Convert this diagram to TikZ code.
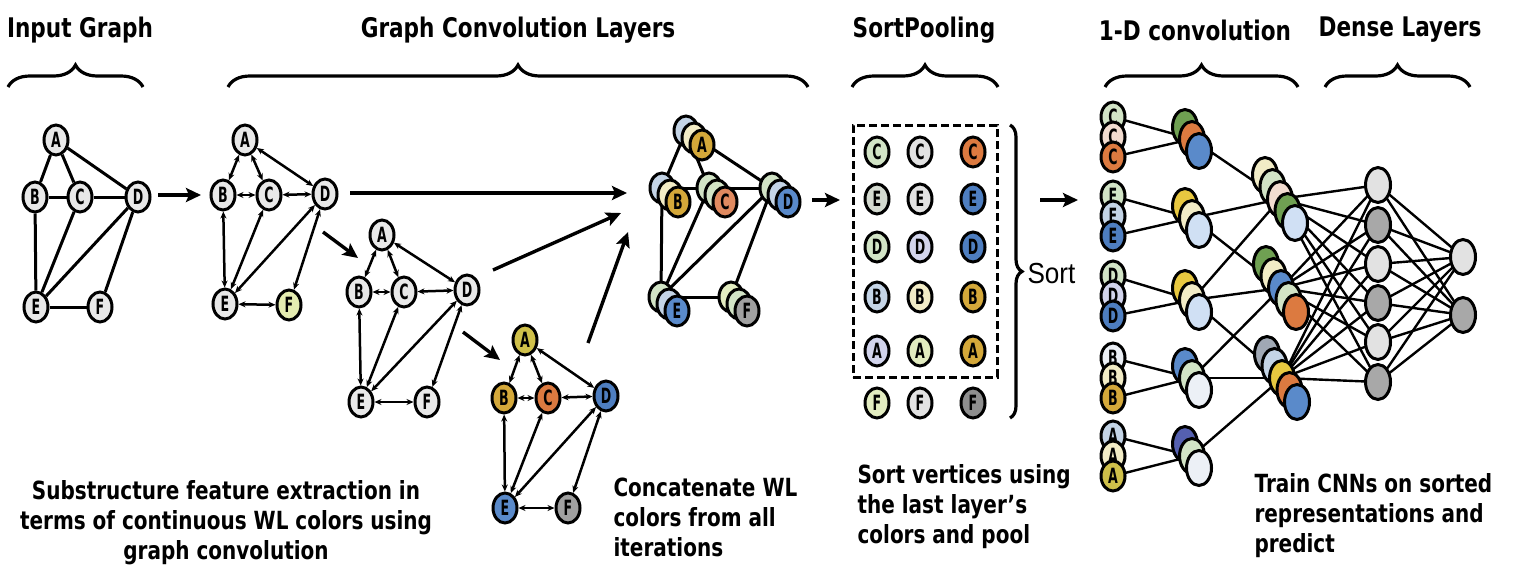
\documentclass[tikz,border=0pt]{standalone}
\usepackage{fontspec}
\setmainfont{DejaVu Sans}[FakeStretch=0.8]
\newfontfamily\lblfont{DejaVu Sans}[FakeStretch=0.6]
\newfontfamily\sortfont{Liberation Sans}[FakeStretch=0.9]
\usetikzlibrary{shapes.geometric,arrows.meta,decorations.pathreplacing}
\pgfdeclarelayer{bg}
\pgfsetlayers{bg,main}

% palette
\definecolor{vgray}{HTML}{E8E8E8}
\definecolor{fyel}{HTML}{E4ECB0}
\definecolor{olive}{HTML}{CFC04A}
\definecolor{gold}{HTML}{D4A83A}
\definecolor{orng}{HTML}{DC7A40}
\definecolor{blu}{HTML}{4E7EC0}
\definecolor{blub}{HTML}{5A8ACA}
\definecolor{midgray}{HTML}{A0A0A0}
\definecolor{ltblue}{HTML}{C4D4E6}
\definecolor{cream}{HTML}{F2ECC6}
\definecolor{ltgreen}{HTML}{D2E4C6}
\definecolor{ygreen}{HTML}{E2ECC0}
\definecolor{salmon}{HTML}{E08A60}
\definecolor{pink}{HTML}{F2DCD0}
\definecolor{green}{HTML}{6FA052}
\definecolor{yel}{HTML}{E8C840}
\definecolor{paleblue}{HTML}{D0E0F4}
\definecolor{white2}{HTML}{ECF0F6}
\definecolor{purp}{HTML}{5560B0}
\definecolor{slate}{HTML}{A0A8B4}
\definecolor{lavender}{HTML}{D2D4EC}
\definecolor{grayg}{HTML}{D4DAD0}
\definecolor{darkgray}{HTML}{8E8E8E}
\definecolor{lgray}{HTML}{E2E2E2}
\definecolor{mgray}{HTML}{A8A8A8}

% three stacked discs of one vertex, letter on the front disc
\newcommand\cstack[7]{%
  \node[vtx,fill=#4] (#1-1) at ({#2-16},{#3-14}) {};
  \node[vtx,fill=#5] (#1-2) at ({#2-8},{#3-7}) {};
  \node[vtx,fill=#6] (#1-3) at (#2,#3) {#7};}
% vertical group of three sorted rows
\newcommand\vstack[7]{%
  \node[vtx,fill=#4] (#1-1) at (#2,{#3-20}) {#7};
  \node[vtx,fill=#5] (#1-2) at (#2,#3) {#7};
  \node[vtx,fill=#6] (#1-3) at (#2,{#3+20}) {#7};}
% three feature maps
\newcommand\dstack[6]{%
  \node[fmap,fill=#4] (#1-1) at ({#2-7},{#3-12}) {};
  \node[fmap,fill=#5] (#1-2) at (#2,#3) {};
  \node[fmap,fill=#6] (#1-3) at ({#2+7},{#3+12}) {};}
% five feature maps
\newcommand\fstack[8]{%
  \node[fmap,fill=#4] (#1-1) at ({#2-15},{#3-24}) {};
  \node[fmap,fill=#5] (#1-2) at ({#2-7.5},{#3-12}) {};
  \node[fmap,fill=#6] (#1-3) at (#2,#3) {};
  \node[fmap,fill=#7] (#1-4) at ({#2+7.5},{#3+12}) {};
  \node[fmap,fill=#8] (#1-5) at ({#2+15},{#3+24}) {};}

\begin{document}
\begin{tikzpicture}[x=1pt,y=-1pt,
  vtx/.style={ellipse,draw,line width=3pt,inner sep=0pt,minimum width=24pt,
    minimum height=30pt,fill=vgray,font=\lblfont\bfseries\fontsize{21}{21}\selectfont},
  fmap/.style={vtx,minimum width=25pt,minimum height=35pt},
  gline/.style={line width=3pt},
  biedge/.style={line width=2.5pt,{Stealth[length=7pt,width=6pt]}-{Stealth[length=7pt,width=6pt]}},
  flow/.style={line width=3.4pt,-{Stealth[length=15pt,width=14pt,inset=3pt]}},
  brc/.style={decorate,decoration={brace,amplitude=22pt},line width=3.2pt},
  head/.style={font=\fontsize{27}{27}\selectfont\bfseries},
  caption/.style={font=\fontsize{25}{30}\selectfont\bfseries},
  net/.style={line width=2.4pt}]
\useasboundingbox (0,0) rectangle (1522,581);

% ---- headings and braces
\node[head] (h1) at (80,30) {Input Graph};
\node[head] (h2) at (518,30) {Graph Convolution Layers};
\node[head] (h3) at (924,30) {SortPooling};
\node[head] (h4) at (1195,30) {1-D convolution};
\node[head] (h5) at (1400,30) {Dense Layers};
\draw[brc] (8,87) -- (143,87);
\draw[brc] (228,87) -- (808,87);
\draw[brc] (852,87) -- (998,87);
\draw[brc] (1105,87) -- (1298,87);
\draw[brc] (1325,87) -- (1470,87);

% ---- input graph
\node[vtx] (a0) at (56,140) {A};
\node[vtx] (b0) at (35,197) {B};
\node[vtx] (c0) at (80,197) {C};
\node[vtx] (d0) at (138,197) {D};
\node[vtx] (e0) at (36,307) {E};
\node[vtx] (f0) at (100,307) {F};
\foreach \u/\v in {a0/b0,a0/c0,a0/d0,b0/c0,c0/d0,b0/e0,c0/e0,d0/e0,d0/f0,e0/f0}
  \draw[gline] (\u) -- (\v);

% ---- first convolution layer
\node[vtx] (a1) at (245,140) {A};
\node[vtx] (b1) at (223,195) {B};
\node[vtx] (c1) at (269,195) {C};
\node[vtx] (d1) at (325,194) {D};
\node[vtx] (e1) at (225,304) {E};
\node[vtx,fill=fyel] (f1) at (289,305) {F};
\foreach \u/\v in {a1/b1,a1/c1,a1/d1,b1/c1,c1/d1,b1/e1,c1/e1,d1/e1,d1/f1,e1/f1}
  \draw[biedge] (\u) -- (\v);

% ---- second convolution layer
\node[vtx] (a2) at (382,235) {A};
\node[vtx] (b2) at (359,292) {B};
\node[vtx] (c2) at (404,292) {C};
\node[vtx] (d2) at (467,290) {D};
\node[vtx] (e2) at (361,402) {E};
\node[vtx] (f2) at (427,402) {F};
\foreach \u/\v in {a2/b2,a2/c2,a2/d2,b2/c2,c2/d2,b2/e2,c2/e2,d2/e2,d2/f2,e2/f2}
  \draw[biedge] (\u) -- (\v);

% ---- third convolution layer
\node[vtx,fill=olive] (a3) at (525,340) {A};
\node[vtx,fill=gold] (b3) at (504,398) {B};
\node[vtx,fill=orng] (c3) at (548,398) {C};
\node[vtx,fill=blu] (d3) at (606,396) {D};
\node[vtx,fill=blub] (e3) at (505,508) {E};
\node[vtx,fill=midgray] (f3) at (568,508) {F};
\foreach \u/\v in {a3/b3,a3/c3,a3/d3,b3/c3,c3/d3,b3/e3,c3/e3,d3/e3,d3/f3,e3/f3}
  \draw[biedge] (\u) -- (\v);

% ---- concatenated graph
\cstack{ca}{702}{145}{ltblue}{cream}{gold}{A}
\cstack{cb}{678}{202}{ltblue}{cream}{gold}{B}
\cstack{cc}{725}{202}{ltgreen}{ltgreen}{salmon}{C}
\cstack{cd}{788}{202}{ltgreen}{ltblue}{blub}{D}
\cstack{ce}{677}{311}{ltgreen}{ltblue}{blub}{E}
\cstack{cf}{747}{311}{ygreen}{ltgreen}{midgray}{F}
\begin{pgfonlayer}{bg}
\foreach \u/\v in {ca/cb,ca/cc,ca/cd,cb/cc,cc/cd,cb/ce,cc/ce,cd/ce,cd/cf,ce/cf}
  \draw[gline] (\u-1.center) -- (\v-1.center);
\end{pgfonlayer}

% ---- flow arrows between stages
\coordinate (p0s) at (158,195); \coordinate (p0e) at (201,195);
\coordinate (p1s) at (350,193); \coordinate (p1e) at (627,193);
\coordinate (p2s) at (323,232); \coordinate (p2e) at (358,258);
\coordinate (p3s) at (493,270); \coordinate (p3e) at (621,213);
\coordinate (p4s) at (463,332); \coordinate (p4e) at (500,360);
\coordinate (p5s) at (588,343); \coordinate (p5e) at (628,232);
\coordinate (p6s) at (812,200); \coordinate (p6e) at (840,200);
\coordinate (p7s) at (1040,200); \coordinate (p7e) at (1078,200);
\foreach \i in {0,...,7} \draw[flow] (p\i s) -- (p\i e);

% ---- SortPooling table
\foreach \r/\l/\ca/\cb/\cc/\y in {1/C/ltgreen/lgray/orng/152,2/E/grayg/lgray/blu/199,
    3/D/ltgreen/lavender/blu/247,4/B/ltblue/cream/gold/297,
    5/A/lavender/ygreen/gold/351,6/F/ygreen/lgray/darkgray/403}{
  \node[vtx,fill=\ca] (s\r a) at (877,\y) {\l};
  \node[vtx,fill=\cb] (s\r b) at (920,\y) {\l};
  \node[vtx,fill=\cc] (s\r c) at (973,\y) {\l};
}
\node[draw,line width=3pt,dash pattern=on 8pt off 4pt,minimum width=144pt,
  minimum height=252pt,inner sep=0pt] (pool) at (925,251) {};
\draw[decorate,decoration={brace,amplitude=12pt},line width=3.2pt] (1010,125) -- (1010,418);
\node[anchor=west,font=\sortfont\fontsize{29}{29}\selectfont] (sortlbl) at (1024,274) {Sort};

% ---- 1-D convolution input rows
\vstack{kc}{1113}{137}{ltgreen}{pink}{orng}{C}
\vstack{ke}{1113}{216}{ltgreen}{ltblue}{blu}{E}
\vstack{kd}{1113}{296}{ltgreen}{lavender}{blu}{D}
\vstack{kb}{1113}{378}{white2}{cream}{gold}{B}
\vstack{ka}{1113}{456}{ltblue}{cream}{olive}{A}

% ---- first feature maps
\dstack{mc}{1192}{139}{green}{orng}{blub}
\dstack{me}{1192}{218}{yel}{cream}{paleblue}
\dstack{md}{1192}{300}{yel}{cream}{paleblue}
\dstack{mb}{1192}{378}{blub}{ltgreen}{white2}
\dstack{ma}{1192}{456}{purp}{ltgreen}{white2}

% ---- second feature maps
\fstack{q1}{1280}{199}{cream}{ltgreen}{pink}{green}{paleblue}
\fstack{q2}{1281}{288}{green}{cream}{blub}{ltgreen}{orng}
\fstack{q3}{1282}{378}{slate}{ltblue}{yel}{orng}{blub}

% ---- dense layers
\foreach \i/\y/\c in {1/185/lgray,2/225/mgray,3/264/lgray,4/303/mgray,5/342/lgray,6/382/mgray}
  \node[fmap,fill=\c] (h\i) at (1378,\y) {};
\node[fmap,fill=lgray] (o1) at (1463,257) {};
\node[fmap,fill=mgray] (o2) at (1463,315) {};

\begin{pgfonlayer}{bg}
\foreach \g/\m in {kc/mc,ke/me,kd/md,kb/mb,ka/ma}{
  \draw[net] (\g-1.center) -- (\m-2.center);
  \draw[net] (\g-3.center) -- (\m-2.center);
}
\foreach \m/\q in {mc/q1,me/q1,md/q1,me/q2,md/q2,mb/q2,md/q3,mb/q3,ma/q3}
  \draw[net] (\m-2.center) -- (\q-3.center);
\foreach \q in {q1,q2,q3}
  \foreach \i in {1,...,6}
    \draw[net] (\q-3.center) -- (h\i.center);
\foreach \i in {1,...,6}
  \foreach \j in {1,2}
    \draw[net] (h\i.center) -- (o\j.center);
\end{pgfonlayer}

% ---- captions
\node[caption,align=center] (t1) at (226,523)
  {Substructure feature extraction in\\terms of continuous WL colors using\\graph convolution};
\node[caption,align=left,anchor=west] (t2) at (610,517)
  {Concatenate WL\\colors from all\\iterations};
\node[caption,align=left,anchor=west] (t3) at (854,507)
  {Sort vertices using\\the last layer’s\\colors and pool};
\node[caption,align=left,anchor=west] (t4) at (1251,516)
  {Train CNNs on sorted\\representations and\\predict};
\end{tikzpicture}
\end{document}
